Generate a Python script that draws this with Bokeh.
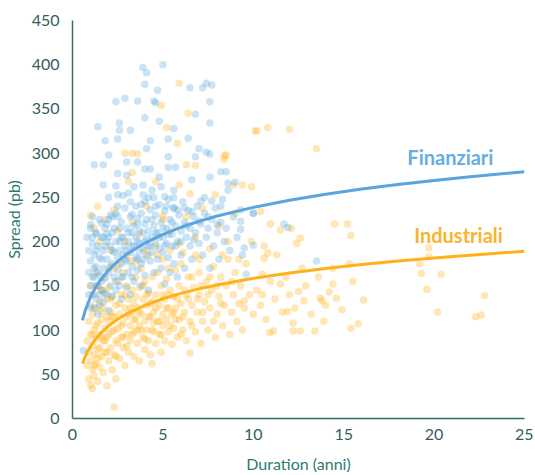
from bokeh.plotting import figure
from bokeh.models import Range1d, Label, FixedTicker
from bokeh.embed import file_html
from bokeh.resources import INLINE

# ---------------- data ----------------
fin_points = [
    (3.9, 397), (4.1, 391), (5.0, 400), (4.0, 378), (4.7, 371), (2.4, 358), (2.9, 362), (3.6, 359),
    (4.5, 359), (4.6, 357), (7.4, 379), (7.7, 377), (7.2, 374), (6.5, 374), (7.6, 358), (6.8, 344),
    (7.6, 334), (4.0, 340), (2.6, 334), (1.4, 330), (4.8, 336), (5.6, 328), (2.6, 326), (3.2, 326),
    (6.4, 317), (1.8, 314), (2.5, 316), (4.3, 314), (5.3, 316), (2.0, 298), (4.1, 305), (3.0, 290),
    (3.6, 290), (5.3, 296), (7.0, 305), (7.4, 301), (6.8, 296), (7.6, 299), (1.2, 287), (1.7, 287),
    (4.0, 282), (4.3, 282), (5.3, 284), (5.7, 284), (2.5, 277), (3.0, 275), (4.8, 273), (7.6, 273),
    (8.2, 279), (1.7, 264), (2.4, 263), (3.9, 264), (6.6, 270), (8.6, 266), (2.5, 253), (3.1, 255),
    (3.9, 253), (5.1, 251), (5.6, 258), (7.1, 246), (7.7, 246), (8.2, 240), (3.2, 245), (4.6, 240),
    (5.2, 240), (5.6, 238), (5.8, 236), (6.6, 234), (9.3, 236), (10.0, 232), (1.0, 219), (1.6, 221),
    (2.1, 230), (2.5, 228), (3.3, 231), (3.6, 226), (7.0, 223), (7.5, 228), (8.0, 219), (1.3, 209),
    (1.9, 209), (2.7, 205),
    (8.5, 279), (8.6, 258), (9.0, 267), (11.7, 220), (11.9, 216), (13.5, 178), (9.6, 163), (10.0, 232),
    (9.3, 214), (9.5, 193), (10.0, 196), (9.3, 223), (0.6, 77),
    (0.8, 205), (0.9, 190), (0.9, 165), (1.0, 215), (1.0, 178), (1.0, 150), (1.1, 228), (1.1, 198),
    (1.1, 140), (1.2, 185), (1.2, 160), (1.2, 125), (1.3, 210), (1.3, 172), (1.3, 135), (1.4, 195),
    (1.4, 150), (1.4, 118), (1.5, 225), (1.5, 182), (1.5, 162), (1.5, 128),
    (1.6, 205), (1.6, 145), (1.7, 190), (1.7, 170), (1.7, 132), (1.8, 215), (1.8, 158), (1.9, 200),
    (1.9, 180), (1.9, 140), (2.0, 225), (2.0, 165), (2.0, 122), (2.1, 195), (2.1, 150), (2.2, 210),
    (2.2, 175), (2.2, 138), (2.3, 188), (2.3, 160), (2.4, 232), (2.4, 200), (2.4, 145), (2.5, 182),
    (2.5, 168),
    (2.6, 215), (2.6, 190), (2.6, 150), (2.7, 175), (2.7, 135), (2.8, 205), (2.8, 185), (2.8, 160),
    (2.9, 238), (2.9, 195), (3.0, 215), (3.0, 178), (3.0, 148), (3.1, 200), (3.1, 165), (3.2, 228),
    (3.2, 188), (3.2, 140), (3.3, 210), (3.3, 172), (3.4, 195), (3.4, 155), (3.5, 240), (3.5, 205),
    (3.5, 182),
    (3.6, 220), (3.6, 168), (3.7, 198), (3.7, 188), (3.8, 232), (3.8, 175), (3.8, 150), (3.9, 210),
    (3.9, 192), (4.0, 245), (4.0, 200), (4.0, 162), (4.1, 225), (4.1, 185), (4.2, 212), (4.2, 195),
    (4.2, 145), (4.3, 236), (4.3, 178), (4.4, 205), (4.4, 188), (4.5, 250), (4.5, 218), (4.5, 165),
    (4.6, 230), (4.6, 198), (4.7, 210), (4.7, 180), (4.8, 242), (4.8, 192), (4.9, 222), (4.9, 170),
    (5.0, 205), (5.0, 188), (5.1, 235), (5.1, 152), (5.2, 215), (5.2, 198), (5.3, 248), (5.3, 182),
    (5.4, 225), (5.4, 165), (5.5, 208), (5.5, 195),
    (5.6, 238), (5.6, 175), (5.7, 218), (5.8, 200), (5.8, 160), (5.9, 230), (6.0, 212), (6.0, 185),
    (6.1, 245), (6.2, 222), (6.2, 170), (6.3, 205), (6.4, 235), (6.5, 195), (6.5, 215), (6.6, 180),
    (6.7, 228), (6.8, 210), (6.9, 240), (7.0, 198),
    (7.1, 220), (7.2, 185), (7.3, 232), (7.4, 205), (7.5, 215), (7.6, 170), (7.7, 225), (7.8, 195),
    (7.9, 238), (8.0, 210), (8.1, 180), (8.2, 222), (8.4, 200), (8.5, 215), (8.7, 190), (8.9, 228),
    (9.1, 205), (9.4, 185),
    (1.1, 205), (1.3, 190), (1.6, 180), (1.8, 195), (2.0, 205), (2.2, 190), (2.3, 215), (2.6, 200),
    (2.7, 222), (2.9, 180), (3.1, 210), (3.3, 195), (3.4, 218), (3.6, 200), (3.7, 212), (3.9, 180),
    (4.0, 220), (4.1, 203), (4.3, 195), (4.4, 225), (4.6, 210), (4.8, 205), (5.0, 215), (5.1, 196),
    (5.3, 208), (5.5, 222), (5.7, 195), (6.0, 200), (6.3, 218), (6.7, 202), (1.2, 170), (1.4, 165),
    (1.6, 155), (1.8, 142), (2.1, 172), (2.4, 155), (2.7, 160), (3.0, 190), (3.3, 160), (3.6, 180),
    (0.9, 140), (1.0, 125), (1.1, 160), (1.3, 150), (1.5, 140), (1.7, 205), (1.9, 220), (2.2, 228),
    (2.5, 240), (3.8, 242), (4.2, 250), (5.6, 250), (6.2, 238), (7.3, 250), (8.3, 248), (2.0, 250),
    (2.8, 252), (3.4, 262), (4.4, 258), (4.9, 262),
]

ind_points = [
    (5.9, 379), (4.9, 354), (6.4, 345), (5.2, 329), (10.1, 325), (10.8, 329), (2.9, 300), (3.3, 300),
    (3.6, 299), (5.8, 311), (8.4, 297), (8.4, 293), (3.3, 278), (6.3, 287), (6.8, 286), (3.1, 268),
    (4.6, 268), (5.9, 264), (6.5, 254), (7.9, 253), (8.9, 264), (9.9, 262), (1.4, 240), (2.3, 236),
    (5.0, 229), (10.4, 234),
    (10.2, 325), (12.0, 327), (13.5, 305), (8.5, 298), (9.4, 264), (10.95, 220), (11.5, 213),
    (12.1, 215), (12.6, 204), (12.4, 198), (14.5, 220), (15.2, 220), (15.4, 207), (10.8, 187),
    (10.6, 181), (12.7, 170), (14.4, 170), (15.3, 175), (15.5, 155), (14.4, 152), (14.2, 143),
    (14.6, 136), (13.7, 136), (13.8, 133), (12.8, 133), (12.5, 144), (12.0, 140), (11.5, 152),
    (10.95, 155), (10.5, 163), (16.1, 134), (14.9, 123), (13.9, 110), (13.4, 99), (12.2, 108),
    (12.2, 99), (11.1, 99), (10.9, 97), (11.9, 121), (10.0, 118), (9.5, 133), (10.5, 140),
    (15.8, 107), (15.4, 102), (12.6, 99),
    (19.7, 193), (19.7, 183), (19.2, 175), (19.3, 164), (20.4, 163), (19.6, 146), (20.2, 120),
    (22.8, 139), (22.6, 117), (22.3, 115),
    (0.8, 60), (0.8, 88), (0.9, 45), (0.9, 75), (0.9, 110), (1.0, 38), (1.0, 65), (1.0, 95),
    (1.0, 128), (1.1, 34), (1.1, 55), (1.1, 82), (1.1, 118), (1.2, 48), (1.2, 72), (1.2, 100),
    (1.2, 140), (1.3, 62), (1.3, 90), (1.3, 125), (1.4, 42), (1.4, 78), (1.4, 108), (1.4, 150),
    (1.5, 58), (1.5, 95), (1.5, 132),
    (1.6, 70), (1.6, 112), (1.6, 145), (1.7, 52), (1.7, 88), (1.7, 125), (1.8, 75), (1.8, 102),
    (1.8, 160), (1.9, 37), (1.9, 92), (1.9, 135), (2.0, 65), (2.0, 110), (2.0, 148), (2.1, 80),
    (2.1, 120), (2.2, 55), (2.2, 98), (2.2, 138), (2.3, 13), (2.3, 72), (2.3, 115), (2.3, 170),
    (2.4, 45), (2.4, 88), (2.4, 128), (2.5, 102), (2.5, 155),
    (2.6, 68), (2.6, 118), (2.7, 92), (2.7, 140), (2.8, 80), (2.8, 108), (2.8, 165), (2.9, 60),
    (2.9, 125), (3.0, 95), (3.0, 115), (3.0, 150), (3.1, 75), (3.1, 135), (3.2, 88), (3.2, 105),
    (3.2, 178), (3.3, 120), (3.3, 145), (3.4, 70), (3.4, 98), (3.4, 130), (3.5, 112), (3.5, 160),
    (3.6, 85), (3.6, 125), (3.7, 65), (3.7, 105), (3.7, 148), (3.8, 118), (3.8, 170), (3.9, 92),
    (3.9, 135), (4.0, 78), (4.0, 110), (4.0, 155), (4.1, 100), (4.1, 128), (4.2, 88), (4.2, 142),
    (4.2, 185), (4.3, 115), (4.3, 72), (4.4, 62), (4.4, 132), (4.4, 160), (4.5, 98), (4.5, 120),
    (4.6, 85), (4.6, 140), (4.7, 110), (4.7, 165), (4.8, 95), (4.8, 128), (4.9, 75), (4.9, 150),
    (5.0, 105), (5.0, 118), (5.0, 180), (5.1, 88), (5.1, 135), (5.2, 112), (5.2, 158), (5.3, 98),
    (5.3, 125), (5.4, 145), (5.4, 190), (5.5, 84), (5.5, 118),
    (5.6, 102), (5.6, 138), (5.7, 125), (5.7, 168), (5.8, 92), (5.9, 112), (5.9, 150), (6.0, 130),
    (6.0, 175), (6.1, 100), (6.2, 120), (6.2, 145), (6.3, 88), (6.4, 135), (6.4, 160), (6.5, 74),
    (6.5, 110), (6.6, 128), (6.7, 148), (6.8, 98), (6.8, 185), (6.9, 120), (7.0, 140), (7.0, 165),
    (7.1, 85), (7.2, 110), (7.3, 132), (7.4, 155), (7.5, 100), (7.6, 125), (7.7, 145), (7.8, 172),
    (7.9, 92), (8.0, 118), (8.1, 138), (8.2, 160), (8.3, 105), (8.4, 128), (8.5, 150), (8.6, 180),
    (8.7, 95), (8.8, 120), (8.9, 140), (9.0, 165), (9.1, 110), (9.2, 130), (9.3, 150), (9.4, 100),
    (9.5, 125), (9.6, 175), (9.8, 140),
    (1.0, 230), (1.2, 215), (1.5, 200), (1.8, 225), (2.1, 190), (2.5, 212), (2.9, 200), (3.3, 222),
    (3.7, 208), (4.1, 240), (4.6, 195), (5.0, 225), (5.4, 212), (5.9, 198), (6.3, 228), (6.8, 205),
    (7.2, 238), (7.6, 192), (8.1, 218), (8.6, 200), (9.0, 232),
    (10.2, 145), (10.4, 128), (10.7, 112), (11.2, 135), (11.6, 120), (11.8, 160), (12.3, 125),
    (12.9, 150), (13.2, 118), (13.6, 160), (14.0, 128), (9.9, 200), (10.6, 195), (11.3, 185),
    (1.1, 95), (1.3, 105), (1.5, 80), (1.6, 120), (1.8, 88), (1.9, 115), (2.0, 95), (2.1, 135),
    (2.3, 100), (2.5, 85), (2.6, 130), (2.7, 105), (2.9, 140), (3.0, 82), (3.1, 118), (3.3, 95),
    (3.4, 112), (3.5, 138), (3.7, 120), (3.8, 100), (3.9, 150), (4.1, 140), (4.2, 115), (4.3, 130),
    (4.5, 108), (4.6, 125), (4.8, 110), (5.0, 140), (5.2, 125), (5.4, 105), (5.6, 120), (5.8, 135),
    (6.1, 115), (6.3, 140), (6.6, 105), (6.9, 135), (7.2, 120), (7.5, 140), (7.8, 110), (8.2, 130),
    (1.2, 60), (1.4, 68), (1.6, 92), (1.9, 75), (2.2, 115), (2.4, 70), (2.8, 92), (3.2, 125),
    (3.6, 100), (4.0, 90), (4.4, 100), (4.9, 95), (5.3, 140), (5.7, 112), (6.0, 95), (6.6, 160),
    (7.1, 150), (7.6, 160), (8.0, 150), (8.8, 155), (1.0, 150), (1.3, 165), (1.7, 145), (2.0, 170),
    (2.6, 175), (3.0, 185), (3.5, 178), (4.0, 190), (4.7, 185), (5.3, 170), (6.1, 188), (7.0, 180),
    (8.3, 185), (9.2, 180),
]

fin_dur = [p[0] for p in fin_points]
fin_spread = [p[1] for p in fin_points]
ind_dur = [p[0] for p in ind_points]
ind_spread = [p[1] for p in ind_points]

# trend curves
trend_dur = [0.55, 0.7, 0.85, 1, 1.25, 1.5, 2, 2.5, 3, 4, 5, 6, 7, 8, 10, 12, 14, 16, 18, 20, 22, 25]
fin_trend = [111.0, 121.7, 130.2, 137.4, 147.2, 155.2, 167.9, 177.7, 185.7, 198.4, 208.2, 216.2,
             223.0, 228.9, 238.7, 246.7, 253.5, 259.4, 264.6, 269.2, 273.4, 279.0]
ind_trend = [62.0, 69.9, 76.4, 81.8, 89.2, 95.3, 104.9, 112.3, 118.4, 128.0, 135.4, 141.5,
             146.6, 151.0, 158.5, 164.5, 169.7, 174.1, 178.0, 181.5, 184.7, 189.0]

x_ticks = [0, 5, 10, 15, 20, 25]
y_ticks = [0, 50, 100, 150, 200, 250, 300, 350, 400, 450]

series_names = ["Finanziari", "Industriali"]

# ---------------- styling ----------------
BLUE_DOT = "#5aa8e0"
ORANGE_DOT = "#ffb21a"
BLUE_LINE = "#5aa5dd"
ORANGE_LINE = "#ffb11b"
AXIS_COL = "#2f6e68"
TICK_COL = "#335e5d"
TITLE_COL = "#2d7a72"
FONT = "Lato"

p = figure(frame_width=452, frame_height=398, output_backend="svg", toolbar_location=None,
           x_range=Range1d(0, 25), y_range=Range1d(0, 450),
           min_border_left=72, min_border_right=9, min_border_top=20, min_border_bottom=57)

p.scatter(ind_dur, ind_spread, size=7.5, fill_color=ORANGE_DOT, fill_alpha=0.33, line_color=None)
p.scatter(fin_dur, fin_spread, size=7.5, fill_color=BLUE_DOT, fill_alpha=0.32, line_color=None)

p.line(trend_dur, fin_trend, line_color=BLUE_LINE, line_width=3)
p.line(trend_dur, ind_trend, line_color=ORANGE_LINE, line_width=3)

p.add_layout(Label(x=20.9, y=296, text=series_names[0], text_color="#66aee2",
                   text_font=FONT, text_font_size="20px", text_font_style="bold",
                   text_align="center", text_baseline="middle"))
p.add_layout(Label(x=21.35, y=208, text=series_names[1], text_color="#f9b42e",
                   text_font=FONT, text_font_size="20px", text_font_style="bold",
                   text_align="center", text_baseline="middle"))

p.xgrid.grid_line_color = None
p.ygrid.grid_line_color = None
p.outline_line_color = None
p.background_fill_color = "white"
p.border_fill_color = "white"

p.xaxis.ticker = FixedTicker(ticks=x_ticks)
p.yaxis.ticker = FixedTicker(ticks=y_ticks)

for ax in (p.xaxis, p.yaxis):
    ax.axis_line_color = AXIS_COL
    ax.axis_line_width = 1.5
    ax.major_tick_line_color = None
    ax.minor_tick_line_color = None
    ax.major_tick_out = 0
    ax.major_tick_in = 0
    ax.major_label_text_color = TICK_COL
    ax.major_label_text_font = FONT
    ax.major_label_text_font_size = "16px"
    ax.axis_label_text_color = TITLE_COL
    ax.axis_label_text_font = FONT
    ax.axis_label_text_font_size = "16px"
    ax.axis_label_text_font_style = "normal"

p.xaxis.axis_label = "Duration (anni)"
p.yaxis.axis_label = "Spread (pb)"
p.xaxis.major_label_standoff = 10
p.yaxis.major_label_standoff = 13
p.xaxis.axis_label_standoff = 11
p.yaxis.axis_label_standoff = 6

open("out.html", "w").write(file_html(p, INLINE))
